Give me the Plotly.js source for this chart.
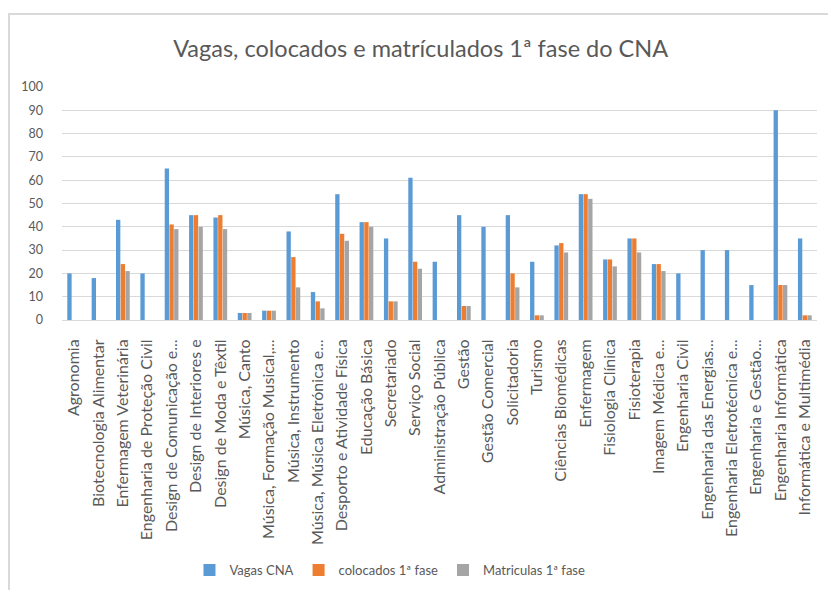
<!DOCTYPE html>
<html><head><meta charset="utf-8">
<script src="https://cdn.plot.ly/plotly-3.0.1.min.js"></script>
<style>
html,body{margin:0;padding:0;background:#fff;}
#wrap{position:absolute;left:0;top:0;width:828px;height:590px;}
#frame{position:absolute;left:8px;top:13px;width:820px;height:577px;border-left:2px solid #d9d9d9;border-top:2px solid #d9d9d9;box-sizing:border-box;pointer-events:none;}
#chart{position:absolute;left:0;top:0;width:828px;height:590px;}
</style></head>
<body><div id="wrap"><div id="chart"></div><div id="frame"></div></div>
<script>
const categories = [
  "Agronomia","Biotecnologia Alimentar","Enfermagem Veterinária","Engenharia de Proteção Civil",
  "Design de Comunicação e...","Design de Interiores e","Design de Moda e Têxtil","Música, Canto",
  "Música, Formação Musical,...","Música, Instrumento","Música, Música Eletrónica e...",
  "Desporto e Atividade Física","Educação Básica","Secretariado","Serviço Social",
  "Administração Pública","Gestão","Gestão Comercial","Solicitadoria","Turismo",
  "Ciências Biomédicas","Enfermagem","Fisiologia Clínica","Fisioterapia","Imagem Médica e...",
  "Engenharia Civil","Engenharia das Energias...","Engenharia Eletrotécnica e...",
  "Engenharia e Gestão...","Engenharia Informática","Informática e Multimédia"
];
const vagas      = [20,18,43,20,65,45,44,3,4,38,12,54,42,35,61,25,45,40,45,25,32,54,26,35,24,20,30,30,15,90,35];
const colocados  = [0,0,24,0,41,45,45,3,4,27,8,37,42,8,25,0,6,0,20,2,33,54,26,35,24,0,0,0,0,15,2];
const matriculas = [0,0,21,0,39,40,39,3,4,14,5,34,40,8,22,0,6,0,14,2,29,52,23,29,21,0,0,0,0,15,2];
const yTicks = [0,10,20,30,40,50,60,70,80,90,100];

const font = "Lato, 'Open Sans', sans-serif";
const traces = [
  {name:"Vagas CNA", y:vagas, marker:{color:"#5B9BD5"}},
  {name:"colocados 1ª fase", y:colocados, marker:{color:"#ED7D31"}},
  {name:"Matriculas 1ª fase", y:matriculas, marker:{color:"#A5A5A5"}}
].map(t => Object.assign({type:"bar", x:categories, hoverinfo:"y"}, t));

const layout = {
  width:828, height:590,
  margin:{l:62, r:11, t:87, b:270},
  paper_bgcolor:"#fff", plot_bgcolor:"#fff",
  barmode:"group", bargap:0.42, bargroupgap:0.08,
  title:{text:"Vagas, colocados e matrículados 1ª fase do CNA", xref:"paper", x:0.475, xanchor:"center", y:0.918, yanchor:"middle",
         font:{family:font, size:23.5, color:"#595959"}},
  xaxis:{type:"category", tickangle:-90, tickfont:{family:font, size:16, color:"#595959"}, ticklabelstandoff:12,
         showgrid:false, showline:true, linecolor:"#d9d9d9", linewidth:1, ticks:"", automargin:false},
  yaxis:{range:[0,100], tickvals:yTicks, ticktext:yTicks.map(String), showgrid:true, gridcolor:"#d9d9d9", gridwidth:1,
         zeroline:false, showline:false, ticks:"", ticklabelstandoff:18,
         tickfont:{family:font, size:12.5, color:"#595959"}, automargin:false},
  legend:{orientation:"h", xref:"container", x:0.471, xanchor:"center", yref:"container", y:0.034, yanchor:"middle",
          font:{family:font, size:13, color:"#595959"}, itemwidth:30, traceorder:"normal"},
  showlegend:true
};
Plotly.newPlot("chart", traces, layout, {displayModeBar:false, staticPlot:true});
</script></body></html>
